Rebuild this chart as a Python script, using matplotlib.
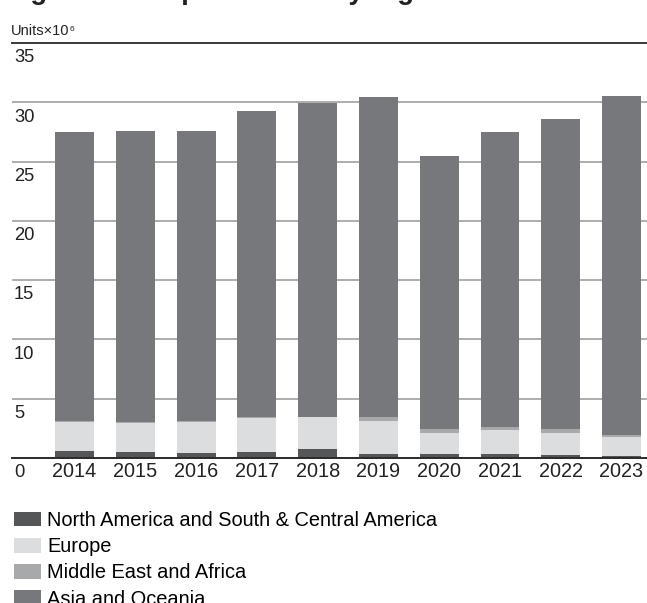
import matplotlib.pyplot as plt
import numpy as np

plt.rcParams['font.family'] = ['Liberation Sans', 'DejaVu Sans']

# data (millions of units)
years = ['2014', '2015', '2016', '2017', '2018', '2019', '2020', '2021', '2022', '2023']
north_south_america = [0.62, 0.53, 0.45, 0.53, 0.79, 0.36, 0.36, 0.36, 0.28, 0.19]
europe = [2.40, 2.42, 2.58, 2.84, 2.66, 2.80, 1.78, 2.04, 1.86, 1.61]
middle_east_africa = [0.10, 0.05, 0.05, 0.05, 0.05, 0.26, 0.34, 0.25, 0.34, 0.18]
asia_oceania = [24.38, 24.57, 24.49, 25.84, 26.47, 27.03, 22.97, 24.83, 26.10, 28.55]

series_names = ['North America and South & Central America', 'Europe',
                'Middle East and Africa', 'Asia and Oceania']
series_colors = ['#555658', '#dcdddf', '#a8a9ab', '#77787b']
y_ticks = [0, 5, 10, 15, 20, 25, 30, 35]

W, H = 647, 603
fig = plt.figure(figsize=(W / 100, H / 100), dpi=100)
ax = fig.add_axes([12 / W, 1 - 458 / H, 635 / W, 415 / H])

x = np.arange(len(years))
bottom = np.zeros(len(years))
for vals, name, col in zip([north_south_america, europe, middle_east_africa, asia_oceania],
                           series_names, series_colors):
    ax.bar(x, vals, width=0.64, bottom=bottom, color=col, linewidth=0, label=name, zorder=2)
    bottom += np.array(vals)

ax.set_xlim(-1.03, 9.42)
ax.set_ylim(0, 35)

# grid lines
for v in y_ticks[1:-1]:
    ax.axhline(v, color='#a0a0a0', linewidth=1.2, zorder=1)
ax.axhline(35, color='#3a3a3a', linewidth=1.4, zorder=3, clip_on=False)
ax.axhline(0, color='#2a2a2a', linewidth=1.4, zorder=3, clip_on=False)

for s in ax.spines.values():
    s.set_visible(False)

# y labels sit under each grid line
ax.set_yticks([])
for v in y_ticks:
    ax.annotate(str(v), xy=(0, v), xycoords=('axes fraction', 'data'),
                xytext=(1.5, -4.5), textcoords='offset points', va='top', ha='left',
                fontsize=13.2, color='#222222')

ax.set_xticks(x)
ax.set_xticklabels(years, fontsize=14.3, color='#222222')
ax.tick_params(axis='x', length=0, pad=3)

# units label
t = fig.text(11 / W, 1 - 35 / H, 'Units\u00d710', fontsize=10.5, color='#222222',
             va='baseline', ha='left')
ax.annotate('6', xy=(1, 1), xycoords=t, xytext=(0.2, -1.5), textcoords='offset points',
            va='top', ha='left', fontsize=6, color='#222222')

# title (cut off at the top of the picture)
fig.text(6 / W, 1 + 1 / H, 'Light vehicle production by region', fontsize=19.7,
         fontweight='bold', va='baseline', ha='left', color='#222222')

# legend
fig.legend(loc='upper left', bbox_to_anchor=(14 / W, 1 - 511 / H), frameon=False,
           fontsize=14.4, handlelength=1.35, handleheight=0.75, handletextpad=0.3,
           labelspacing=0.36, borderpad=0, borderaxespad=0)

fig.savefig('out.png', dpi=100)
